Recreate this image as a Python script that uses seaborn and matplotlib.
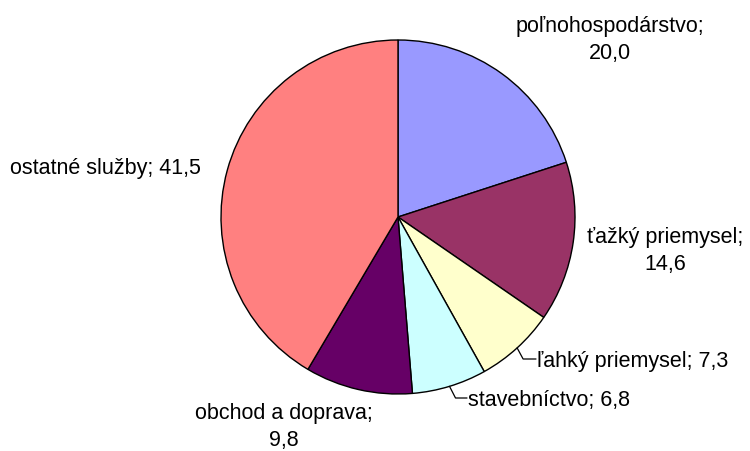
import numpy as np
import matplotlib
matplotlib.use("Agg")
import matplotlib.pyplot as plt
import seaborn as sns

# data (percent shares)
sectors = ["poľnohospodárstvo", "ťažký priemysel", "ľahký priemysel",
           "stavebníctvo", "obchod a doprava", "ostatné služby"]
shares = [20.0, 14.6, 7.3, 6.8, 9.8, 41.5]
colors = ["#9999FF", "#993366", "#FFFFCC", "#CCFFFF", "#660066", "#FF8080"]

# label placement in pixel coords: (x, last-line baseline y from top, ha, two_lines, leader)
label_layout = [
    (610, 59, "center", True, False),
    (665, 270, "center", True, False),
    (537, 367, "left", False, True),
    (468, 406, "left", False, True),
    (284, 446, "center", True, False),
    (10, 174, "left", False, False),
]

sns.set_theme(style="white")
plt.rcParams["font.family"] = ["Liberation Sans", "DejaVu Sans"]

W, H = 750, 452
fig = plt.figure(figsize=(W / 100, H / 100), dpi=100)
ax = fig.add_axes([0, 0, 1, 1])

cx, cy, r = 398, H - 218, 177
wedges, _ = ax.pie(shares, colors=colors, startangle=90, counterclock=False,
                   center=(cx, cy), radius=r,
                   wedgeprops=dict(edgecolor="black", linewidth=1.0))
ax.set_xlim(0, W)
ax.set_ylim(0, H)
ax.axis("off")

for name, val, w, (lx, ly, ha, two, leader) in zip(sectors, shares, wedges, label_layout):
    num = f"{val:.1f}".replace(".", ",")
    txt = f"{name};\n{num}" if two else f"{name}; {num}"
    ax.text(lx, H - ly, txt, ha=ha, va="baseline", multialignment="center",
            fontsize=15.5, color="black", linespacing=1.4)
    if leader:
        ang = np.deg2rad((w.theta1 + w.theta2) / 2)
        x0, y0 = cx + r * np.cos(ang), cy + r * np.sin(ang)
        ey = H - ly + 7
        ax.plot([x0, x0 + 6, lx - 1], [y0, ey, ey], color="black", lw=0.9)

fig.savefig("out.png", dpi=100)
